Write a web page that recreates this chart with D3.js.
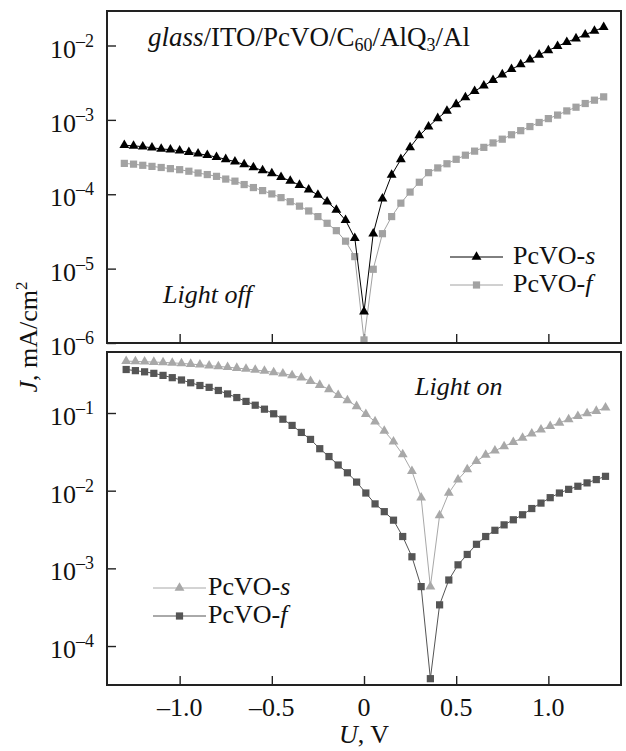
<!DOCTYPE html>
<html>
<head>
<meta charset="utf-8">
<script src="https://cdn.jsdelivr.net/npm/d3@7"></script>
<style>
  body { margin: 0; background: #fff; }
  text { font-family: 'Liberation Serif', Tinos, 'Times New Roman', Times, serif; fill: #111; }
</style>
</head>
<body>
<svg id="chart" width="626" height="751"></svg>
<script>
// voltage points, V
const voltsOff = [-1.3, -1.25, -1.2, -1.15, -1.1, -1.05, -1.0, -0.95, -0.9, -0.85, -0.8, -0.75, -0.7, -0.65, -0.6, -0.55, -0.5, -0.45, -0.4, -0.35, -0.3, -0.25, -0.2, -0.15, -0.1, -0.05,
  0, 0.05, 0.1, 0.15, 0.2, 0.25, 0.3, 0.35, 0.4, 0.45, 0.5, 0.55, 0.6, 0.65, 0.7, 0.75, 0.8, 0.85, 0.9, 0.95, 1.0, 1.05, 1.1, 1.15, 1.2, 1.25, 1.3]
const voltsOn = [-1.29, -1.24, -1.19, -1.14, -1.09, -1.04, -0.99, -0.94, -0.89, -0.84, -0.79, -0.74, -0.69, -0.64, -0.59, -0.54, -0.49, -0.44, -0.39, -0.34, -0.29, -0.24, -0.19, -0.14, -0.09, -0.04,
  0.01, 0.06, 0.11, 0.16, 0.21, 0.26, 0.31, 0.36, 0.41, 0.46, 0.51, 0.56, 0.61, 0.66, 0.71, 0.76, 0.81, 0.86, 0.91, 0.96, 1.01, 1.06, 1.11, 1.16, 1.21, 1.26, 1.31]

// current density J, mA/cm2 — light off
const offS = [4.57e-4, 4.47e-4, 4.37e-4, 4.22e-4, 4.07e-4, 3.98e-4, 3.85e-4, 3.67e-4, 3.51e-4, 3.35e-4, 3.16e-4, 2.95e-4, 2.75e-4, 2.51e-4, 2.29e-4, 2.09e-4, 1.91e-4, 1.70e-4, 1.51e-4, 1.33e-4, 1.15e-4, 9.8e-5, 7.94e-5, 6.17e-5, 4.47e-5, 2.57e-5,
  2.63e-6, 2.95e-5, 8.71e-5, 1.82e-4, 2.95e-4, 4.27e-4, 6.17e-4, 8.13e-4, 1.05e-3, 1.32e-3, 1.62e-3, 2.0e-3, 2.43e-3, 2.88e-3, 3.43e-3, 4.07e-3, 4.79e-3, 5.56e-3, 6.46e-3, 7.50e-3, 8.61e-3, 9.77e-3, 1.11e-2, 1.24e-2, 1.40e-2, 1.57e-2, 1.76e-2]
const offF = [2.60e-4, 2.54e-4, 2.45e-4, 2.37e-4, 2.29e-4, 2.21e-4, 2.14e-4, 2.04e-4, 1.93e-4, 1.84e-4, 1.74e-4, 1.60e-4, 1.50e-4, 1.35e-4, 1.23e-4, 1.12e-4, 1.01e-4, 9.0e-5, 7.94e-5, 6.92e-5, 5.96e-5, 5.01e-5, 4.07e-5, 3.24e-5, 2.34e-5, 1.45e-5,
  1.10e-6, 9.8e-6, 2.95e-5, 5.01e-5, 7.59e-5, 1.07e-4, 1.45e-4, 1.95e-4, 2.26e-4, 2.57e-4, 2.95e-4, 3.35e-4, 3.80e-4, 4.27e-4, 4.90e-4, 5.50e-4, 6.31e-4, 7.16e-4, 8.13e-4, 9.23e-4, 1.04e-3, 1.16e-3, 1.32e-3, 1.48e-3, 1.66e-3, 1.84e-3, 2.04e-3]

// light on
const onS = [0.466, 0.461, 0.457, 0.453, 0.448, 0.442, 0.435, 0.427, 0.418, 0.407, 0.398, 0.389, 0.379, 0.369, 0.358, 0.347, 0.334, 0.321, 0.305, 0.285, 0.257, 0.229, 0.202, 0.170, 0.145, 0.122,
  0.0966, 0.0776, 0.0589, 0.0427, 0.0292, 0.0178, 0.00813, 5.82e-4, 4.79e-3, 9.33e-3, 0.0139, 0.0188, 0.0240, 0.0288, 0.0327, 0.0372, 0.0422, 0.0479, 0.0543, 0.0612, 0.0676, 0.0748, 0.0828, 0.0912, 0.0989, 0.106, 0.117]
const onF = [0.363, 0.351, 0.339, 0.324, 0.305, 0.285, 0.266, 0.245, 0.226, 0.214, 0.195, 0.176, 0.158, 0.141, 0.126, 0.112, 0.0977, 0.0832, 0.0692, 0.0562, 0.0457, 0.0347, 0.0275, 0.0214, 0.0170, 0.0129,
  0.00933, 0.00676, 0.00537, 0.00417, 0.00257, 0.00141, 5.82e-4, 3.80e-5, 3.39e-4, 7.08e-4, 0.00111, 0.00151, 0.00204, 0.00257, 0.00309, 0.00363, 0.00422, 0.00490, 0.00589, 0.00692, 0.00813, 0.00933, 0.0104, 0.0114, 0.0126, 0.0139, 0.0153]

const xTicks = [-1, -0.5, 0, 0.5, 1]
const xTickLabels = ['–1.0', '–0.5', '0', '0.5', '1.0']
const offExponents = [-2, -3, -4, -5, -6]
const onExponents = [-1, -2, -3, -4]

const svg = d3.select('#chart')
const left = 107
const right = 621
const fs = '26px'

const x = d3.scaleLinear().domain([-1.394, 1.394]).range([left, right])

const panels = [
  {
    top: 11, bottom: 343, domain: [0.0291, 1e-6], exps: offExponents,
    series: [
      { u: voltsOff, j: offF, color: '#a2a2a2', shape: 'square', name: 'f' },
      { u: voltsOff, j: offS, color: '#000', shape: 'triangle', name: 's' }
    ],
    legend: { x1: 450, x2: 503, tx: 513, y: 257, order: [1, 0] }
  },
  {
    top: 352, bottom: 685, domain: [0.61, 3.15e-5], exps: onExponents,
    series: [
      { u: voltsOn, j: onS, color: '#a8a8a8', shape: 'triangle', name: 's' },
      { u: voltsOn, j: onF, color: '#555', shape: 'square', name: 'f' }
    ],
    legend: { x1: 153, x2: 206, tx: 208, y: 588, order: [0, 1] }
  }
]

const symbolFor = shape => shape === 'triangle'
  ? d3.symbol(d3.symbolTriangle, 42)()
  : d3.symbol(d3.symbolSquare, 52)()

panels.forEach(p => {
  const y = d3.scaleLog().domain(p.domain).range([p.top, p.bottom])
  const g = svg.append('g')

  g.append('g')
    .attr('transform', `translate(0,${p.bottom})`)
    .call(d3.axisBottom(x).tickValues(xTicks).tickSize(-9).tickFormat(''))
    .call(a => a.select('.domain').remove())
    .call(a => a.selectAll('line').attr('stroke', '#222').attr('stroke-width', 1.4))

  g.append('g')
    .attr('transform', `translate(${left},0)`)
    .call(d3.axisLeft(y).tickValues(p.exps.map(e => Math.pow(10, e))).tickSize(-9).tickFormat(''))
    .call(a => a.select('.domain').remove())
    .call(a => a.selectAll('line').attr('stroke', '#222').attr('stroke-width', 1.4))

  // y tick labels as 10^n
  p.exps.forEach(e => {
    const ty = y(Math.pow(10, e))
    g.append('text').attr('x', 76).attr('y', ty + 12)
      .attr('text-anchor', 'end').style('font-size', fs).text('10')
    g.append('text').attr('x', 76).attr('y', ty + 1)
      .style('font-size', '18px').text('–' + Math.abs(e))
  })

  p.series.forEach(s => {
    const pts = s.u.map((u, i) => ({ u: u, j: s.j[i] }))
    g.append('path')
      .datum(pts)
      .attr('fill', 'none')
      .attr('stroke', s.color)
      .attr('stroke-width', 1)
      .attr('d', d3.line().x(d => x(d.u)).y(d => y(d.j)))
    g.selectAll(null)
      .data(pts)
      .enter().append('path')
      .attr('transform', d => `translate(${x(d.u)},${y(d.j)})`)
      .attr('d', symbolFor(s.shape))
      .attr('fill', s.color)
  })

  g.append('rect')
    .attr('x', left).attr('y', p.top)
    .attr('width', right - left).attr('height', p.bottom - p.top)
    .attr('fill', 'none').attr('stroke', '#222').attr('stroke-width', 2)

  // legend
  const L = p.legend
  L.order.forEach((k, i) => {
    const s = p.series[k]
    const ly = L.y + i * 28
    g.append('line').attr('x1', L.x1).attr('x2', L.x2).attr('y1', ly).attr('y2', ly)
      .attr('stroke', s.color).attr('stroke-width', 1)
    g.append('path').attr('transform', `translate(${(L.x1 + L.x2) / 2},${ly})`)
      .attr('d', symbolFor(s.shape)).attr('fill', s.color)
    const t = g.append('text').attr('x', L.tx).attr('y', ly + 7).style('font-size', fs)
    t.append('tspan').text('PcVO-')
    t.append('tspan').style('font-style', 'italic').text(s.name)
  })
})

// panel annotations
const title = svg.append('text').attr('x', 148).attr('y', 46).style('font-size', '27px')
title.append('tspan').style('font-style', 'italic').text('glass')
title.append('tspan').text('/ITO/PcVO/C')
title.append('tspan').attr('dy', 5).style('font-size', '18px').text('60')
title.append('tspan').attr('dy', -5).text('/AlQ')
title.append('tspan').attr('dy', 5).style('font-size', '18px').text('3')
title.append('tspan').attr('dy', -5).text('/Al')

svg.append('text').attr('x', 163).attr('y', 303).style('font-size', fs)
  .style('font-style', 'italic').text('Light off')
svg.append('text').attr('x', 415).attr('y', 395).style('font-size', fs)
  .style('font-style', 'italic').text('Light on')

// x axis labels
svg.selectAll('.xlab')
  .data(xTicks)
  .enter().append('text')
  .attr('x', d => x(d))
  .attr('y', 716)
  .attr('text-anchor', 'middle')
  .style('font-size', fs)
  .text((d, i) => xTickLabels[i])

const xTitle = svg.append('text').attr('x', 364).attr('y', 743).attr('text-anchor', 'middle').style('font-size', fs)
xTitle.append('tspan').style('font-style', 'italic').text('U')
xTitle.append('tspan').text(', V')

const yTitle = svg.append('text')
  .attr('transform', 'translate(37,337) rotate(-90)')
  .attr('text-anchor', 'middle')
  .style('font-size', fs)
yTitle.append('tspan').style('font-style', 'italic').text('J')
yTitle.append('tspan').text(', mA/cm')
yTitle.append('tspan').attr('dy', -10).style('font-size', '17px').text('2')
</script>
</body>
</html>
